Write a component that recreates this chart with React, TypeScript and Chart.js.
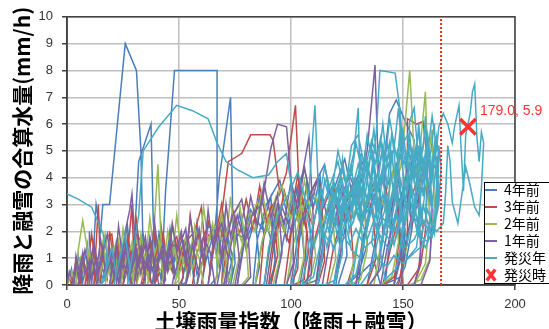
import React, { useEffect, useRef } from "react";
import { Chart, registerables } from "chart.js";

Chart.register(...registerables);

// ---- data (soil rainfall index, rain+snowmelt mm/h) ----
const series4YearsAgo: number[][] = [
  [0,0],[2,0.6],[3,0],[5,1.1],[7,0.2],[6,0],[9,1.5],[10,0.2],[10,2.0],[11,0],[13,3.0],[15,2.0],[16,3.0],[19,3.0],[26,9.0],[31,8.0],[33,5.0],[34,1.2],[35,0],[31,0],[27,0],[24,0],[22,1.4],[21,0.2],[19,0],[21,0.9],[23,0.1],[25,1.3],[27,2.2],[29,0.5],[28,0],[30,1.6],[32,4.6],[37.5,6.0],[38.5,2.4],[40,0.5],[38,0],[41,1.9],[43,0.7],[42,0],[44,3.5],[48,8.0],[67,8.0],[67,0.3],[64,0],[60,0],[57,0],[55,1.2],[53,0.1],[51,0],[53,0.8],[56,1.5],[58,0.4],[61,1.0],[63,2.2],[66,2.0],[68,4.0],[73,7.0],[74,2.6],[75,0.8],[73,0],[69,0],[70,1.4],[72,0.3],[76,1.9],[80,1.7],[84,2.5],[86,0.7],[84,0],[79,0],[76,0],[78,1.2],[82,2.8],[87,2.1],[91,3.3],[93,1.0],[91,0],[86,0],[83,0],[85,1.7],[89,3.0],[95,3.9],[99,2.3],[103,3.6],[106,1.0],[104,0],[98,0],[93,0],[96,1.4],[100,3.1],[106,4.3],[110,2.9],[113,4.0],[115,1.3],[112,0.2],[106,0],[101,0],[104,1.8],[109,3.5],[115,4.5],[119,2.7],[123,3.8],[125,1.1],[121,0],[115,0],[111,0],[114,2.0],[118,3.3],[124,4.7],[128,3.1],[132,4.2],[134,1.5],[130,0.4],[125,0],[120,0],[123,1.6],[127,3.4],[133,4.8],[137,3.5],[141,5.1],[143,2.0],[140,0.6],[135,0],[130,0],[133,1.8],[137,3.2],[141,4.3],[144,6.4],[147,6.9],[151,6.1],[155,5.4],[152,3.1],[149,1.0],[146,0],[142,0],[145,2.5],[148,3.9],[151,2.0],[149,0.3],[141,0],[134,0],[136,0.9],[139,2.2],[143,3.7],[147,4.5],[150,2.9],[152,4.7],[154,2.1],[151,0.7],[147,0],[140,0],[137,0.9],[132,0.5],[128,0],
  [120,0],[110,0],[100,0],[90,0],[80,0],[70,0],[60,0],[50,0],[40,0],[30,0],[20,0],[12,0],[14,0.8],[16,0.2],[18,1.2],[20,0.4],[22,1.6],[24,0.6],[26,1.1],[28,0.2],[30,1.4],[32,0.5],[34,1.9],[36,0.8],[38,1.3],[40,0.3],[42,1.7],[44,0.6],[46,2.1],[48,0.9],[50,1.5],[52,0.4],[54,1.8],[56,0.7],[58,2.3],[60,1.1],[62,1.6],[64,0.5],[66,2.0],[68,1.2],[70,2.6],[72,1.4],[74,0.6],[72,0],[66,0],[60,0],[62,0.9],[65,1.8],[68,0.7],[71,2.1],[74,1.0],[77,2.7],[80,1.3],[83,2.2],[86,3.3],[88,1.8],[91,2.6],[93,0.8],[90,0],[84,0],[86,1.1],[89,2.3],[92,1.4],[95,2.9],[98,1.7],[101,3.2],[104,2.1],[107,3.8],[109,1.5],[107,0],[100,0],[92,0],[85,0],
  [75,0],[65,0],[55,0],[45,0],[35,0],[25,0],[15,0],[5,0],[6,0.7],[7,0.1],[9,0.9],[10,0.3],[12,1.1],[13,0.2],[15,0.8],[17,0.3],[18,1.0],[20,0.1],[21,0.7],[23,1.2],[24,0.3],[26,0.9],[28,0.4],[29,1.3],[31,0.2],[33,1.0],[35,0.4],[36,1.4],[38,0.5],[40,1.1],[42,0.2],[44,1.3],[45,0.5],[47,1.0],[49,0.3],[51,1.2],[53,0.6],[55,1.4],[57,0.3]
];

const series3YearsAgo: number[][] = [
  [0,0],[1,0.3],[2,0],[4,0.9],[6,0.1],[5,0],[7,1.0],[9,0.4],[8,0],[11,1.9],[13,0.6],[12,0],[14,3.0],[15,0.4],[14,0],[17,1.8],[20,1.9],[22,0.5],[20,0],[23,1.2],[26,0.3],[25,0],[28,2.0],[29,3.0],[30,0.6],[28,0],[31,1.5],[33,1.8],[35,0.2],[33,0],[36,1.1],[39,1.9],[41,0.4],[39,0],[42,2.2],[44,0.8],[43,0],[46,1.4],[49,1.8],[52,0.3],[50,0],[47,0],[44,0],[41,0],[38,0],[36,0.7],[34,0],[31,0],[33,1.3],[35,0.5],[37,1.6],[39,1.0],[42,1.4],[45,0.6],[48,1.2],[50,0.5],[53,1.6],[57,2.0],[60,2.9],[62,1.1],[60,0],[56,0],[58,1.2],[62,2.0],[66,1.5],[69,2.6],[72,4.6],[78,4.9],[82,5.6],[90.6,5.6],[92,5.4],[95,3.4],[98,4.2],[102,6.7],[104,2.8],[103,0.6],[100,0],[95,0],[90,0],[92,1.3],[95,2.4],[99,1.6],[103,3.3],[107,2.0],[106,0.2],[101,0],[97,0],[100,1.9],[105,3.1],[110,2.2],[113,3.6],[115,0.9],[112,0],[107,0],[110,1.5],[114,2.8],[119,3.8],[122,2.1],[126,3.0],[128,0.8],[125,0],[119,0],[116,0],[119,1.4],[123,2.6],[128,3.9],[132,2.4],[136,3.4],[138,1.0],[134,0],[129,0],[132,1.7],[136,3.1],[141,4.0],[145,2.7],[147,4.3],[149,1.4],[146,0.3],[141,0],[144,1.2],[148,2.5],[150,0],[148,0],[150,0.9],[152,2.0],[152,6.2],[156,6.0],[159,6.1],[161,4.5],[160,2.0],[158,0.8],[155,0],[150,0],[146,0],[148,1.5],[152,2.9],[156,3.8],[159,2.3],[157,0.6],[152,0],[145,0],
  [135,0],[125,0],[115,0],[105,0],[95,0],[85,0],[75,0],[65,0],[55,0],[45,0],[35,0],[25,0],[15,0],[8,0],[10,0.7],[12,1.5],[14,0.5],[16,1.3],[18,0.3],[19,2.0],[21,0.8],[23,1.5],[25,0.4],[27,1.8],[29,0.9],[31,2.4],[33,1.0],[35,1.6],[37,0.5],[39,2.1],[41,1.2],[43,1.9],[45,0.6],[47,2.3],[49,1.4],[51,1.8],[53,0.7],[55,2.6],[57,1.3],[59,1.9],[61,0.8],[63,2.4],[66,1.7],[69,3.0],[71,1.2],[69,0],[63,0],[65,1.4],[68,2.2],[71,1.5],[74,2.8],[77,1.9],[80,3.2],[83,2.1],[86,3.7],[89,2.4],[92,3.0],[94,1.1],[91,0],[86,0],[88,1.9],[91,2.9],[94,2.2],[97,3.5],[100,2.6],[103,4.1],[106,2.9],[108,1.3],[105,0],[97,0],[88,0],
  [78,0],[68,0],[58,0],[48,0],[38,0],[28,0],[18,0],[6,0],[7,0.8],[9,0.2],[10,1.2],[12,0.4],[13,0.9],[15,0.1],[16,1.1],[18,0.6],[19,1.4],[21,0.2],[22,0.9],[24,0.5],[25,1.3],[27,0.3],[28,1.0],[30,0.4],[32,1.5],[34,0.6],[35,1.1],[37,0.2],[38,1.4],[40,0.7],[42,1.2],[43,0.3],[45,1.0],[47,0.5],[48,1.6],[50,0.8],[52,1.3],[54,0.4],[56,1.1]
];

const series2YearsAgo: number[][] = [
  [0,0],[2,0.5],[4,0],[5,1.3],[7,2.4],[9,1.4],[10,0.2],[9,0],[12,0.9],[14,0.2],[13,0],[16,1.6],[18,0.5],[17,0],[20,1.1],[23,1.7],[25,0.4],[24,0],[27,1.3],[30,0.3],[29,0],[32,1.2],[35,1.6],[37,0.5],[36,0],[39,2.3],[40.6,4.5],[42,1.6],[43,0.2],[41,0],[38,0],[35,0],[33,0.6],[31,0],[28,0],[26,0.8],[24,0.2],[22,1.0],[20,0.3],[19,0],[22,0.6],[25,1.4],[28,0.7],[31,1.7],[34,0.9],[37,1.3],[40,0.4],[45,0.9],[48,1.5],[50,0.2],[48,0],[51,1.1],[54,0.4],[53,0],[56,1.7],[59,1.0],[61,0],[58,0],[62,1.3],[66,2.2],[70,1.5],[72,0.2],[69,0],[66,0],[69,1.4],[73,2.4],[77,3.0],[80,1.6],[81,0.3],[78,0],[74,0],[77,1.1],[81,2.3],[85,3.1],[90,2.0],[93,3.2],[95,0.9],[92,0],[87,0],[84,0],[87,1.6],[91,2.7],[96,3.7],[100,2.5],[104,3.4],[106,1.1],[103,0],[98,0],[101,1.5],[105,2.8],[110,3.6],[114,2.3],[118,3.3],[120,1.0],[117,0],[112,0],[115,1.8],[119,3.2],[124,4.1],[128,2.6],[132,3.7],[134,1.3],[131,0.2],[126,0],[129,1.4],[133,2.9],[138,3.9],[142,2.8],[146,4.4],[148,1.6],[145,0.3],[140,0],[137,0],[140,1.5],[144,3.0],[149,4.4],[151,6.1],[153,8.0],[155,4.9],[157,3.4],[158,5.4],[160,7.2],[161,4.6],[163,5.8],[164,3.0],[162,1.0],[158,0.2],[153,0],[149,0],[152,1.7],[156,3.2],[160,4.3],[162,2.6],[160,0.8],[155,0],[147,0],[142,0],
  [132,0],[122,0],[112,0],[102,0],[92,0],[82,0],[72,0],[62,0],[52,0],[42,0],[32,0],[22,0],[14,0],[15,0.9],[17,1.9],[19,0.7],[21,1.4],[23,0.5],[25,2.1],[27,1.0],[29,1.6],[31,0.4],[33,1.9],[35,0.8],[37,2.5],[39,1.1],[41,1.7],[43,0.6],[45,2.0],[47,1.0],[49,2.6],[51,1.2],[53,1.8],[55,0.5],[57,2.2],[59,1.3],[61,2.9],[63,1.6],[65,2.3],[67,0.8],[69,2.7],[71,1.5],[73,3.3],[75,1.7],[73,0.2],[69,0],[72,1.2],[75,2.4],[78,1.6],[81,2.8],[84,2.0],[87,3.5],[90,2.3],[93,2.9],[95,1.0],[92,0],[88,0],[91,1.6],[94,2.8],[97,2.0],[100,3.3],[103,2.4],[106,3.9],[109,2.6],[111,1.1],[108,0],[100,0],[93,0],
  [83,0],[73,0],[63,0],[53,0],[43,0],[33,0],[23,0],[13,0],[4,0],[5,0.6],[6,1.0],[8,0.3],[10,1.3],[11,0.5],[13,1.0],[14,0.2],[16,0.8],[18,1.3],[19,0.4],[21,0.9],[22,0.2],[24,1.2],[26,0.6],[27,1.1],[29,0.3],[31,1.3],[32,0.6],[34,1.2],[36,0.3],[38,1.0],[39,0.5],[41,1.4],[43,0.4],[44,1.1],[46,0.6],[48,1.3],[50,0.4],[52,0.9],[54,1.4],[56,0.6],[58,1.2]
];

const series1YearAgo: number[][] = [
  [0,0],[1,0.5],[3,0],[4,1.1],[6,0.3],[5,0],[8,1.3],[10,0.5],[9,0],[12,1.6],[14,0.2],[13,0],[16,1.2],[18,1.9],[20,0.6],[19,0],[22,1.5],[24,0.3],[23,0],[26,2.0],[28,2.8],[29,3.4],[31,0.8],[30,0],[33,1.4],[35,0.4],[34,0],[37,1.8],[39,0.9],[41,0],[39,0],[42,1.3],[44,0.2],[43,0],[46,1.7],[48,0.5],[47,0],[44,0],[40,0],[36,0],[32,0],[29,0],[27,0.9],[25,0],[22,0],[24,1.1],[27,0.4],[30,1.3],[32,0.7],[35,1.5],[38,0.6],[41,1.1],[44,0.8],[47,1.5],[50,1.4],[53,2.1],[55,0.6],[53,0],[56,1.5],[59,0.4],[58,0],[61,1.8],[64,1.2],[66,0],[63,0],[66,1.6],[69,2.3],[72,1.0],[71,0],[67,0],[70,1.3],[74,2.6],[78,3.2],[81,1.7],[82,0.3],[79,0],[76,0],[79,1.5],[83,2.7],[87,3.0],[91,5.1],[94,6.0],[98,5.9],[101,3.0],[101,0.8],[98,0],[93,0],[89,0],[92,1.7],[96,2.9],[100,2.0],[104,3.6],[108,5.5],[110,2.4],[109,0.4],[105,0],[100,0],[103,1.8],[107,3.1],[112,4.0],[116,2.6],[120,3.5],[122,1.2],[119,0],[114,0],[117,1.5],[121,2.9],[126,4.1],[130,3.3],[134,5.0],[137.5,8.2],[139,4.2],[141,2.0],[139,0.5],[135,0],[129,0],[132,1.6],[136,3.1],[141,4.0],[144,2.5],[147,3.6],[149,1.2],[146,0],[140,0],[143,1.4],[147,2.8],[151,3.8],[154,2.2],[157,3.3],[158,1.0],[155,0],[149,0],[152,1.9],[156,3.4],[160,4.5],[163,2.8],[162,0.9],[158,0],[150,0],[144,0],[138,0],
  [128,0],[118,0],[108,0],[98,0],[88,0],[78,0],[68,0],[58,0],[48,0],[38,0],[28,0],[18,0],[10,0],[11,1.0],[13,0.4],[15,1.7],[17,0.6],[19,1.3],[21,0.3],[23,2.2],[25,0.9],[27,1.5],[29,0.6],[31,2.0],[33,1.1],[35,1.8],[37,0.4],[39,2.4],[41,1.0],[43,1.6],[45,0.7],[47,2.2],[49,1.3],[51,2.0],[53,0.8],[55,2.5],[57,1.4],[59,2.1],[61,0.9],[63,2.8],[65,1.5],[67,2.2],[69,1.0],[71,3.0],[73,1.8],[75,2.5],[77,0.9],[75,0],[70,0],[73,1.4],[76,2.6],[79,1.7],[82,3.3],[85,2.2],[88,3.8],[91,2.5],[94,3.4],[96,1.2],[93,0],[88,0],[91,1.8],[94,3.0],[97,2.3],[100,3.9],[103,2.8],[106,4.4],[109,3.0],[112,4.0],[114,1.4],[111,0],[104,0],[96,0],
  [86,0],[76,0],[66,0],[56,0],[46,0],[36,0],[26,0],[16,0],[3,0],[4,0.8],[5,0.3],[7,1.2],[8,0.4],[10,0.9],[11,0.2],[13,1.1],[14,0.5],[16,1.4],[17,0.3],[19,0.8],[20,1.2],[22,0.3],[23,1.0],[25,0.6],[26,1.5],[28,0.3],[30,0.9],[31,1.3],[33,0.4],[34,1.0],[36,0.6],[38,1.5],[39,0.4],[41,0.9],[43,1.3],[44,0.5],[46,1.2],[48,0.3],[50,1.0],[52,1.6],[54,0.7]
];

const seriesDisasterYear: number[][] = [
  [0,3.4],[5,3.2],[11,2.9],[16,1.95],[18,1.1],[17,0.2],[15,0],[18,0.7],[20,1.4],[22,0.4],[21,0],[24,1.2],[26,1.9],[28,0.6],[27,0],[30,1.5],[32,2.6],[34,5.0],[41,5.9],[49,6.7],[56,6.5],[63,6.2],[67,5.3],[71,4.6],[76,4.3],[83,4.0],[90,4.1],[94,4.6],[98,4.9],[101,3.2],[103,0.9],[100,0],[94,0],[88,0],[90,1.4],[94,2.6],[99,3.4],[103,4.2],[107,3.0],[108,3.5],[110.7,6.7],[112,4.0],[113,1.5],[110,0.3],[105,0],[108,1.6],[112,3.0],[116,4.0],[118,2.5],[121,3.7],[123,1.2],[120,0.2],[115,0],[112,0],[115,1.8],[119,3.2],[123,4.3],[127,2.9],[130,4.0],[132,1.5],[129,0.4],[124,0],[119,0],[122,1.6],[126,3.1],[130,4.5],[134,3.2],[137,4.4],[139,1.8],[136,0.6],[131,0],[127,0],[130,1.7],[134,3.0],[136,4.3],[138,5.6],[139.7,8.0],[146.5,7.9],[148.7,6.5],[150,5.0],[148,4.7],[150,1.9],[147,0.6],[142,0.2],[140,1.2],[143,2.6],[146,3.8],[149,5.1],[152,5.6],[154,3.9],[156,5.3],[158,2.7],[156,1.4],[152,1.0],[149,1.6],[151,3.1],[154,4.4],[157,5.7],[159,4.1],[161,5.5],[163,3.0],[161,1.6],[157,1.9],[155,3.2],[158,4.6],[160,5.9],[162,4.7],[164,6.0],[165,3.9],[164,2.2],[160,1.4],[156,2.0],[158,3.4],[161,4.9],[163,6.3],[165,5.1],[166,5.9],[168,6.4],[170,6.0],[172,5.3],[173,5.9],[175,6.7],[176,5.0],[177,3.5],[178,5.6],[180,6.4],[181,7.2],[182,7.5],[183,5.5],[184,4.6],[185,5.7],[186,5.3],[185,3.6],[184,2.6],[182,2.9],[180,3.7],[178,4.4],[176,3.2],[174.5,2.3],[172,3.1],[171,4.6],[170,5.2],[169,3.4],[168,2.3],[165,2.0],[162,2.4],[159,1.5],[155,1.2],[150,0.8],[146,1.1],[143,0.7],[139,0.9],[136,1.6],[138,2.8],[141,3.9],[144,2.7],[147,4.0],[149,2.4],[146,1.5],[142,1.9],[139,3.0],[136,4.1],[134,2.2],[131,1.0],[127,1.3],[124,2.4],[127,3.6],[130,2.5],[133,3.8],[136,5.1],[139,3.5],[142,4.6],[144,6.2],[147,4.8],[150,5.8],[152,4.3],[153,6.1],[155,6.6],[157,4.5],[159,5.1],[160,6.3],[161,3.8],[160,2.2],[157,2.8],[154,3.6],[151,2.3],[148,3.2],[145,2.0],[141,2.5],[137,1.7],[133,1.4],[129,2.1],[126,1.5],[122,2.0],[119,1.3],[116,2.3],[119,3.4],[122,2.6],[125,3.9],[128,4.9],[130,6.6],[131,3.3],[134,4.6],[137,3.1],[140,4.0],[143,5.3],[146,3.3],[149,3.9],[152,2.6],[155,4.9],[158,3.5],[160,4.2],[162,3.1],[163,4.7],[165,4.2],[166,5.2],[167,4.4],[166,3.0],[163,1.8],[159,2.4],[155,1.7],[151,1.4],[147,2.6],[144,1.3],[140,1.8],[137,2.4],[134,1.7],[130,2.9],[127,2.2],[123,3.1],[120,2.4],[117,1.6],[113,2.2],[110,1.4],[107,2.6],[110,3.3],[113,2.7],[117,3.6],[121,4.6],[124,3.4],[127,5.2],[130,5.6],[133,4.3],[136,5.4],[139,4.6],[141,6.0],[143,4.4],[146,5.1],[148,6.6],[150,4.5],[153,5.2],[156,4.0],[158,5.0],[160,3.6],[158,2.2],[154,2.6],[150,3.4],[147,1.9],[143,3.1],[139,2.0],[135,2.9],[131,2.3],[128,3.2],[124,2.8],[121,3.8],[118,2.9],[115,3.9],
  [113,2.5],[116,1.4],[119,2.6],[121,1.7],[124,3.3],[126,2.0],[129,3.6],[131,2.4],[133,5.0],[135,3.2],[137,4.8],[139,2.7],[141,4.2],[143,2.3],[145,5.0],[147,3.1],[149,5.4],[151,3.0],[153,4.6],[155,2.4],[157,5.2],[159,3.3],[161,5.0],[163,2.9],[165,4.8],[166,3.5],[164,1.9],[161,2.8],[158,1.8],[155,2.9],[152,1.6],[149,2.7],[146,1.5],[143,2.8],[140,1.4],[137,3.3],[134,2.1],[131,3.7],[128,2.4],[125,3.5],[122,1.8],[119,2.9],[117,2.0],[119,3.9],[121,3.0],[123,4.7],[125,3.3],[127,4.4],[129,2.9],[131,4.9],[133,3.3],[135,4.5],[137,5.8],[139,4.0],[141,5.2],[143,3.6],[145,5.7],[147,4.1],[149,6.1],[151,4.4],[153,5.6],[155,3.8],[157,6.0],[159,4.3],[161,5.6],[163,3.9],[165,5.5],[166,4.7],[165,2.7],[162,2.0],[159,3.0],[156,2.1],[153,3.3],[150,2.2],[147,3.5],[144,2.2],[141,3.4],[138,2.1],[135,3.6],[132,2.6],[129,3.9],[126,2.6],[123,3.7],[120,2.2],[117,3.1],[114,1.8],[112,2.9],[115,4.4],[118,3.4],[121,5.0],[124,3.9],[127,4.1],[129,5.3],[132,4.1],[134,5.6],[137,4.3],[140,5.5],[142,4.0],[144,5.3],[146,4.2],[149,4.8],[151,3.7],[154,5.0],[156,3.1],[159,4.7],[162,3.6],[164,5.2],[166,4.0]
];

const seriesLabels = ["4年前", "3年前", "2年前", "1年前", "発災年"];
const seriesColors = ["#4A7EBB", "#BE4B48", "#98B954", "#7D60A0", "#46AAC5"];
const allSeries = [series4YearsAgo, series3YearsAgo, series2YearsAgo, series1YearAgo, seriesDisasterYear];

const markerLabel = "発災時";
const markerX = [179.0];
const markerY = [5.9];
const thresholdX = [167, 167];
const thresholdY = [0, 10];

const xTickValues = [0, 50, 100, 150, 200];
const yTickValues = [0, 1, 2, 3, 4, 5, 6, 7, 8, 9, 10];
const xTitle = "土壌雨量指数（降雨＋融雪）";
const yTitle = "降雨と融雪の合算水量(mm/h)";

const MARKER_COLOR = "#FF3333";
const JP_FONT = '"Noto Sans CJK JP"';
const NUM_FONT = '"Liberation Sans"';

const overlayPlugin = {
  id: "overlay",
  beforeDraw(chart: any) {
    const lg = chart.legend;
    if (lg) {
      lg.left = 482;
      lg.top = 180;
      lg.right = 552;
      lg.bottom = 294;
      lg.width = 70;
      lg.height = 114;
    }
  },
  beforeDatasetsDraw(chart: any) {
    const { ctx, chartArea: a } = chart;
    ctx.save();
    ctx.strokeStyle = "#404040";
    ctx.lineWidth = 1.5;
    ctx.strokeRect(a.left, a.top, a.right - a.left, a.bottom - a.top);
    ctx.restore();
  },
  afterDatasetsDraw(chart: any) {
    const { ctx } = chart;
    const meta = chart.getDatasetMeta(5);
    const pt = meta.data[0];
    ctx.save();
    if (pt) {
      ctx.font = `14px ${NUM_FONT}`;
      ctx.fillStyle = MARKER_COLOR;
      ctx.textAlign = "left";
      ctx.textBaseline = "middle";
      ctx.fillText(`${markerX[0].toFixed(1)}, ${markerY[0].toFixed(1)}`, pt.x + 12, pt.y - 16);
    }
    ctx.fillStyle = "#ffffff";
    ctx.fillRect(484, 182, 70, 101);
    ctx.strokeStyle = "#000000";
    ctx.lineWidth = 1;
    ctx.strokeRect(484.5, 182.5, 70, 101);
    ctx.restore();
    if (chart.legend) chart.legend.draw();
  },
};

export default function App() {
  const canvasRef = useRef<HTMLCanvasElement | null>(null);

  useEffect(() => {
    const canvas = canvasRef.current;
    if (!canvas) return;

    const lineSets = allSeries.map((pts, i) => ({
      label: seriesLabels[i],
      data: pts.map(([x, y]) => ({ x, y })),
      showLine: true,
      borderColor: seriesColors[i],
      backgroundColor: seriesColors[i],
      borderWidth: 1.5,
      pointRadius: 0,
      pointStyle: "line",
      pointBorderColor: seriesColors[i],
      pointBorderWidth: 2,
      tension: 0,
      fill: false,
      order: 6 - i,
    }));

    const chart = new Chart(canvas, {
      type: "scatter",
      data: {
        datasets: [
          ...lineSets,
          {
            label: markerLabel,
            data: markerX.map((x, i) => ({ x, y: markerY[i] })),
            showLine: false,
            pointStyle: "crossRot",
            pointRadius: 11,
            pointBorderWidth: 3.5,
            pointBorderColor: MARKER_COLOR,
            pointBackgroundColor: MARKER_COLOR,
            borderColor: MARKER_COLOR,
            backgroundColor: MARKER_COLOR,
            order: 0,
          },
          {
            label: "threshold",
            data: thresholdX.map((x, i) => ({ x, y: thresholdY[i] })),
            showLine: true,
            borderColor: "#FF2020",
            borderWidth: 2,
            borderDash: [2, 2],
            pointRadius: 0,
            order: 1,
          },
        ] as any,
      },
      options: {
        responsive: false,
        animation: false,
        devicePixelRatio: 1,
        events: [],
        layout: { padding: { top: 15, left: 0, right: 0, bottom: 0 } },
        plugins: {
          tooltip: { enabled: false },
          legend: {
            position: "right",
            align: "start",
            maxWidth: 34,
            labels: {
              usePointStyle: true,
              pointStyleWidth: 12,
              boxHeight: 11,
              padding: 3,
              color: "#000000",
              font: { family: JP_FONT, size: 14 },
              filter: (item: any) => item.datasetIndex !== 6,
              sort: (a: any, b: any) => a.datasetIndex - b.datasetIndex,
            },
          },
        },
        scales: {
          x: {
            type: "linear",
            min: 0,
            max: 200,
            afterFit: (s: any) => {
              s.height = 49;
            },
            afterBuildTicks: (s: any) => {
              s.ticks = xTickValues.map((v) => ({ value: v }));
            },
            ticks: {
              padding: 7,
              color: "#333333",
              font: { family: NUM_FONT, size: 13 },
              maxRotation: 0,
            },
            grid: {
              color: "#bfbfbf",
              lineWidth: 1.5,
              tickLength: 5,
              tickColor: "#404040",
              tickWidth: 1.5,
            },
            border: { color: "#404040", width: 1.5 },
            title: {
              display: true,
              text: xTitle,
              color: "#000000",
              font: { family: JP_FONT, size: 21, weight: "bold" },
              padding: { top: 0, bottom: 0 },
            },
          },
          y: {
            type: "linear",
            min: 0,
            max: 10,
            afterFit: (s: any) => {
              s.width = 67;
            },
            afterBuildTicks: (s: any) => {
              s.ticks = yTickValues.map((v) => ({ value: v }));
            },
            ticks: {
              padding: 9,
              color: "#333333",
              font: { family: NUM_FONT, size: 13 },
            },
            grid: {
              color: "#bfbfbf",
              lineWidth: 1.5,
              tickLength: 5,
              tickColor: "#404040",
              tickWidth: 1.5,
            },
            border: { color: "#404040", width: 1.5 },
            title: {
              display: true,
              text: yTitle,
              color: "#000000",
              font: { family: JP_FONT, size: 21, weight: "bold" },
              padding: { top: 9.5, bottom: 0 },
            },
          },
        },
      } as any,
      plugins: [overlayPlugin],
    });

    return () => {
      chart.destroy();
    };
  }, []);

  return (
    <div
      style={{
        position: "fixed",
        left: 0,
        top: 0,
        width: 549,
        height: 329,
        overflow: "hidden",
        background: "#ffffff",
      }}
    >
      <canvas ref={canvasRef} width={549} height={334} style={{ display: "block" }} />
    </div>
  );
}
